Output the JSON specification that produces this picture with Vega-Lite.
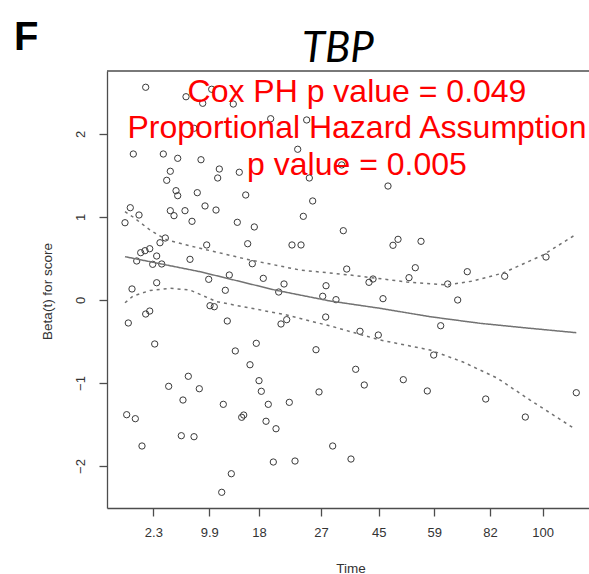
{
  "$schema": "https://vega.github.io/schema/vega-lite/v6.json",
  "width": 482,
  "height": 437,
  "autosize": {"type": "none"},
  "padding": {"left": 107, "top": 71, "right": 0, "bottom": 66},
  "background": "white",
  "config": {"view": {"stroke": null}, "font": "Liberation Sans"},
  "datasets": {
    "residuals": [
      {"t": 8.06, "b": 2.563}, {"t": 16.46, "b": 2.449}, {"t": 19.94, "b": 2.370}, {"t": 21.81, "b": 2.539},
      {"t": 26.31, "b": 2.361}, {"t": 34.10, "b": 2.184}, {"t": 41.60, "b": 2.169}, {"t": 18.13, "b": 2.069},
      {"t": 5.48, "b": 1.759}, {"t": 11.73, "b": 1.759}, {"t": 14.73, "b": 1.707}, {"t": 19.58, "b": 1.690},
      {"t": 39.73, "b": 1.816}, {"t": 23.40, "b": 1.578}, {"t": 27.56, "b": 1.539}, {"t": 23.06, "b": 1.470},
      {"t": 13.19, "b": 1.551}, {"t": 12.44, "b": 1.442}, {"t": 42.15, "b": 1.470}, {"t": 14.38, "b": 1.317},
      {"t": 14.73, "b": 1.257}, {"t": 18.81, "b": 1.293}, {"t": 28.90, "b": 1.265}, {"t": 42.85, "b": 1.193},
      {"t": 4.85, "b": 1.112}, {"t": 6.67, "b": 1.024}, {"t": 3.75, "b": 0.931}, {"t": 13.19, "b": 1.076},
      {"t": 13.96, "b": 1.016}, {"t": 16.25, "b": 1.076}, {"t": 20.42, "b": 1.133}, {"t": 22.71, "b": 1.084},
      {"t": 17.71, "b": 0.948}, {"t": 27.15, "b": 0.936}, {"t": 30.69, "b": 0.880}, {"t": 40.90, "b": 1.008},
      {"t": 49.23, "b": 0.835}, {"t": 12.15, "b": 0.747}, {"t": 11.04, "b": 0.690}, {"t": 8.90, "b": 0.618},
      {"t": 7.92, "b": 0.594}, {"t": 7.02, "b": 0.570}, {"t": 10.35, "b": 0.530}, {"t": 6.19, "b": 0.470},
      {"t": 9.52, "b": 0.430}, {"t": 11.40, "b": 0.434}, {"t": 17.29, "b": 0.490}, {"t": 20.77, "b": 0.663},
      {"t": 29.31, "b": 0.678}, {"t": 38.54, "b": 0.663}, {"t": 40.42, "b": 0.663}, {"t": 30.27, "b": 0.437},
      {"t": 49.94, "b": 0.373}, {"t": 10.35, "b": 0.208}, {"t": 5.21, "b": 0.133}, {"t": 21.19, "b": 0.249},
      {"t": 25.48, "b": 0.301}, {"t": 32.56, "b": 0.261}, {"t": 36.88, "b": 0.193}, {"t": 24.65, "b": 0.117},
      {"t": 35.77, "b": 0.096}, {"t": 45.63, "b": 0.172}, {"t": 44.94, "b": 0.045}, {"t": 47.71, "b": 0.004},
      {"t": 21.46, "b": -0.069}, {"t": 22.35, "b": -0.081}, {"t": 8.06, "b": -0.169}, {"t": 8.90, "b": -0.133},
      {"t": 4.44, "b": -0.277}, {"t": 25.06, "b": -0.253}, {"t": 36.25, "b": -0.289}, {"t": 37.44, "b": -0.237},
      {"t": 45.56, "b": -0.205}, {"t": 9.94, "b": -0.530}, {"t": 31.10, "b": -0.522}, {"t": 26.73, "b": -0.614},
      {"t": 43.54, "b": -0.599}, {"t": 29.79, "b": -0.780}, {"t": 16.94, "b": -0.919}, {"t": 12.85, "b": -1.040},
      {"t": 19.23, "b": -1.069}, {"t": 31.67, "b": -0.972}, {"t": 32.15, "b": -1.100}, {"t": 44.17, "b": -1.108},
      {"t": 15.83, "b": -1.205}, {"t": 24.23, "b": -1.257}, {"t": 33.60, "b": -1.257}, {"t": 37.98, "b": -1.233},
      {"t": 4.10, "b": -1.382}, {"t": 5.90, "b": -1.430}, {"t": 28.48, "b": -1.386}, {"t": 28.06, "b": -1.413},
      {"t": 33.13, "b": -1.461}, {"t": 35.21, "b": -1.551}, {"t": 15.48, "b": -1.635}, {"t": 18.13, "b": -1.647},
      {"t": 7.29, "b": -1.759}, {"t": 47.02, "b": -1.759}, {"t": 50.83, "b": -1.916}, {"t": 34.65, "b": -1.952},
      {"t": 39.17, "b": -1.940}, {"t": 25.90, "b": -2.093}, {"t": 23.90, "b": -2.317}, {"t": 57.50, "b": 0.016},
      {"t": 73.06, "b": 0.000}, {"t": 69.52, "b": -0.310}, {"t": 52.71, "b": -0.377}, {"t": 56.52, "b": -0.422},
      {"t": 68.06, "b": -0.663}, {"t": 51.81, "b": -0.835}, {"t": 53.60, "b": -1.024}, {"t": 61.73, "b": -0.960},
      {"t": 66.73, "b": -1.096}, {"t": 78.90, "b": -1.193}, {"t": 87.15, "b": -1.410}, {"t": 97.77, "b": -1.117},
      {"t": 48.90, "b": 1.627}, {"t": 58.54, "b": 1.373}, {"t": 59.58, "b": 0.659}, {"t": 60.63, "b": 0.731},
      {"t": 65.42, "b": 0.707}, {"t": 54.58, "b": 0.213}, {"t": 55.42, "b": 0.253}, {"t": 62.92, "b": 0.269},
      {"t": 64.23, "b": 0.389}, {"t": 70.98, "b": 0.193}, {"t": 75.06, "b": 0.341}, {"t": 82.85, "b": 0.286},
      {"t": 91.46, "b": 0.518}
    ],
    "fit": [
      {"curve": "fit", "t": 3.75, "b": 0.522}, {"curve": "fit", "t": 19.38, "b": 0.341}, {"curve": "fit", "t": 35.0, "b": 0.120},
      {"curve": "fit", "t": 46.46, "b": -0.012}, {"curve": "fit", "t": 56.88, "b": -0.100}, {"curve": "fit", "t": 67.29, "b": -0.201},
      {"curve": "fit", "t": 77.71, "b": -0.281}, {"curve": "fit", "t": 88.13, "b": -0.341}, {"curve": "fit", "t": 97.77, "b": -0.394},
      {"curve": "upper", "t": 3.75, "b": 1.064}, {"curve": "upper", "t": 5.42, "b": 1.000}, {"curve": "upper", "t": 8.96, "b": 0.843},
      {"curve": "upper", "t": 12.44, "b": 0.723}, {"curve": "upper", "t": 19.38, "b": 0.623}, {"curve": "upper", "t": 29.79, "b": 0.482},
      {"curve": "upper", "t": 40.21, "b": 0.361}, {"curve": "upper", "t": 50.63, "b": 0.301}, {"curve": "upper", "t": 62.5, "b": 0.217},
      {"curve": "upper", "t": 70.83, "b": 0.181}, {"curve": "upper", "t": 76.25, "b": 0.229}, {"curve": "upper", "t": 82.5, "b": 0.325},
      {"curve": "upper", "t": 90.83, "b": 0.542}, {"curve": "upper", "t": 97.5, "b": 0.783},
      {"curve": "lower", "t": 3.75, "b": -0.033}, {"curve": "lower", "t": 5.42, "b": 0.048}, {"curve": "lower", "t": 8.96, "b": 0.114},
      {"curve": "lower", "t": 13.13, "b": 0.141}, {"curve": "lower", "t": 17.29, "b": 0.120}, {"curve": "lower", "t": 22.85, "b": -0.020},
      {"curve": "lower", "t": 29.79, "b": -0.096}, {"curve": "lower", "t": 37.44, "b": -0.181}, {"curve": "lower", "t": 47.08, "b": -0.322},
      {"curve": "lower", "t": 56.88, "b": -0.482}, {"curve": "lower", "t": 67.29, "b": -0.602}, {"curve": "lower", "t": 74.17, "b": -0.747},
      {"curve": "lower", "t": 81.25, "b": -0.940}, {"curve": "lower", "t": 88.13, "b": -1.205}, {"curve": "lower", "t": 97.5, "b": -1.554}
    ],
    "notes": [
      {"t": 52.08, "b": 2.389, "txt": "Cox PH p value = 0.049"},
      {"t": 52.08, "b": 1.946, "txt": "Proportional Hazard Assumption"},
      {"t": 52.08, "b": 1.506, "txt": "p value = 0.005"}
    ],
    "panel": [{"t": -19.4, "b": 3.012, "txt": "F"}],
    "heading": [{"t": 48.13, "b": 2.867, "txt": "TBP"}],
    "frame": [{"edge": "top", "b": 2.759}]
  },
  "layer": [
    {
      "data": {"name": "residuals"},
      "mark": {"type": "point", "shape": "circle", "filled": false, "size": 40, "stroke": "#3a3a3a", "strokeWidth": 1, "opacity": 1},
      "encoding": {
        "x": {
          "field": "t", "type": "quantitative",
          "scale": {"domain": [0, 100.417], "nice": false, "zero": false},
          "axis": {
            "values": [9.65, 21.31, 31.67, 44.58, 56.6, 68.19, 79.79, 90.77],
            "labelExpr": "['2.3','9.9','18','27','45','59','82','100'][indexof([9.65,21.31,31.67,44.58,56.6,68.19,79.79,90.77], datum.value)]",
            "grid": false, "title": "Time",
            "domainColor": "#4d4d4d", "domainWidth": 1.3, "tickColor": "#4d4d4d", "tickWidth": 1.3, "tickSize": 8,
            "labelFont": "Liberation Sans", "labelFontSize": 13, "labelColor": "#333333", "labelPadding": 10,
            "labelFlush": false, "labelOverlap": false,
            "titleFont": "Liberation Sans", "titleFontSize": 13.5, "titleFontWeight": "normal", "titleColor": "#333333",
            "titleX": 243.5, "titleY": 60, "titleBaseline": "middle", "titleAlign": "center"
          }
        },
        "y": {
          "field": "b", "type": "quantitative",
          "scale": {"domain": [-2.506, 2.759], "nice": false, "zero": false},
          "axis": {
            "values": [-2, -1, 0, 1, 2], "format": "d",
            "grid": false, "title": "Beta(t) for score",
            "domainColor": "#4d4d4d", "domainWidth": 1.3, "tickColor": "#4d4d4d", "tickWidth": 1.3, "tickSize": 8,
            "labelFont": "Liberation Sans", "labelFontSize": 13, "labelColor": "#333333",
            "labelAngle": -90, "labelAlign": "center", "labelBaseline": "alphabetic", "labelPadding": 15,
            "titleFont": "Liberation Sans", "titleFontSize": 13.5, "titleFontWeight": "normal", "titleColor": "#333333",
            "titleX": -60, "titleY": 220, "titleAngle": -90, "titleBaseline": "middle", "titleAlign": "center"
          }
        }
      }
    },
    {
      "data": {"name": "fit"},
      "mark": {"type": "line", "strokeWidth": 1.5, "color": "#727272"},
      "encoding": {
        "x": {"field": "t", "type": "quantitative"},
        "y": {"field": "b", "type": "quantitative"},
        "detail": {"field": "curve"},
        "order": {"field": "t", "type": "quantitative"},
        "strokeDash": {"field": "curve", "type": "nominal", "scale": {"domain": ["fit", "upper", "lower"], "range": [[1, 0], [3, 4], [3, 4]]}, "legend": null}
      }
    },
    {
      "data": {"name": "frame"},
      "mark": {"type": "rule", "color": "#4d4d4d", "strokeWidth": 1.3},
      "encoding": {"y": {"field": "b", "type": "quantitative"}}
    },
    {
      "data": {"name": "notes"},
      "mark": {"type": "text", "font": "Liberation Sans", "fontSize": 32, "color": "#ff0000", "align": "center", "baseline": "alphabetic"},
      "encoding": {
        "x": {"field": "t", "type": "quantitative"},
        "y": {"field": "b", "type": "quantitative"},
        "text": {"field": "txt"}
      }
    },
    {
      "data": {"name": "panel"},
      "mark": {"type": "text", "font": "Liberation Sans", "fontSize": 40, "fontWeight": "bold", "color": "black", "align": "left", "baseline": "alphabetic"},
      "encoding": {
        "x": {"field": "t", "type": "quantitative"},
        "y": {"field": "b", "type": "quantitative"},
        "text": {"field": "txt"}
      }
    },
    {
      "data": {"name": "heading"},
      "mark": {"type": "text", "font": "Lato", "fontSize": 42, "fontStyle": "italic", "fontWeight": "normal", "color": "black", "align": "center", "baseline": "alphabetic"},
      "encoding": {
        "x": {"field": "t", "type": "quantitative"},
        "y": {"field": "b", "type": "quantitative"},
        "text": {"field": "txt"}
      }
    }
  ]
}
